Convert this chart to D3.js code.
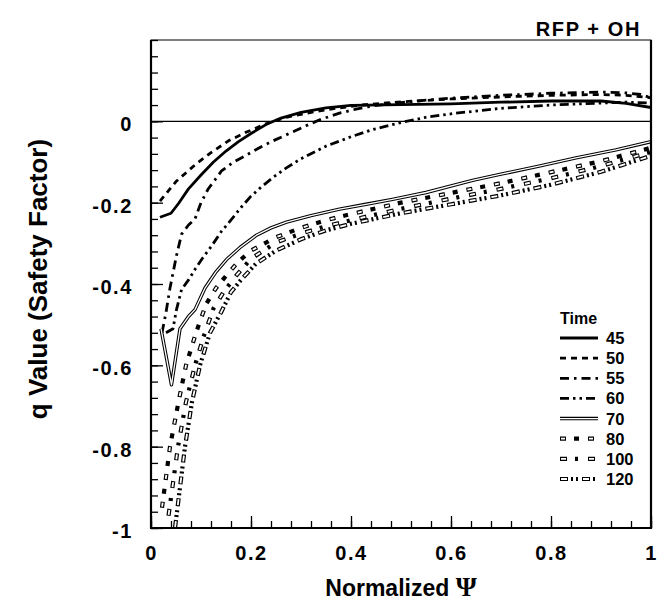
<!DOCTYPE html>
<html>
<head>
<meta charset="utf-8">
<script src="https://cdn.jsdelivr.net/npm/d3@7"></script>
<style>
    body { margin: 0; background: #fff; }
    svg { display: block; }
    text { font-family: "Liberation Sans", Arial, sans-serif; font-weight: bold; fill: #000; }
</style>
</head>
<body>
<svg id="chart" width="664" height="608"></svg>
<script>
// values
const times = [45, 50, 55, 60, 70, 80, 100, 120];

const psi45 = [0.018, 0.04, 0.055, 0.075, 0.1, 0.125, 0.15, 0.175, 0.2, 0.23, 0.26, 0.3, 0.35, 0.4, 0.5, 0.6, 0.7, 0.8, 0.9, 0.95, 1.0];
const q45 = [-0.236, -0.226, -0.202, -0.166, -0.132, -0.1, -0.073, -0.05, -0.03, -0.008, 0.008, 0.022, 0.033, 0.039, 0.041, 0.043, 0.047, 0.05, 0.05, 0.044, 0.034];

const psi50 = [0.018, 0.05, 0.09, 0.12, 0.155, 0.19, 0.23, 0.27, 0.32, 0.37, 0.42, 0.5, 0.6, 0.7, 0.8, 0.9, 0.95, 1.0];
const q50 = [-0.196, -0.148, -0.105, -0.077, -0.048, -0.027, -0.006, 0.01, 0.022, 0.032, 0.04, 0.048, 0.055, 0.06, 0.064, 0.066, 0.064, 0.058];

const psi55 = [0.022, 0.03, 0.038, 0.051, 0.061, 0.075, 0.088, 0.1, 0.114, 0.141, 0.165, 0.188, 0.215, 0.244, 0.28, 0.31, 0.34, 0.377, 0.41, 0.444, 0.5, 0.55, 0.6, 0.7, 0.8, 0.9, 0.95, 0.98, 1.0];
const q55 = [-0.52, -0.47, -0.41, -0.33, -0.278, -0.255, -0.24, -0.2, -0.167, -0.122, -0.1, -0.085, -0.066, -0.048, -0.028, -0.011, 0.005, 0.02, 0.03, 0.038, 0.046, 0.052, 0.057, 0.064, 0.069, 0.072, 0.07, 0.066, 0.058];

const psi60 = [0.03, 0.044, 0.051, 0.061, 0.075, 0.088, 0.104, 0.121, 0.14, 0.161, 0.18, 0.2, 0.22, 0.244, 0.27, 0.3, 0.35, 0.4, 0.444, 0.5, 0.55, 0.61, 0.7, 0.8, 0.9, 0.95, 1.0];
const q60 = [-0.52, -0.51, -0.463, -0.414, -0.39, -0.364, -0.335, -0.307, -0.272, -0.241, -0.212, -0.184, -0.162, -0.138, -0.115, -0.092, -0.061, -0.038, -0.02, -0.003, 0.01, 0.02, 0.032, 0.04, 0.045, 0.047, 0.045];

const psi70 = [0.02, 0.041, 0.058, 0.075, 0.088, 0.108, 0.13, 0.151, 0.178, 0.211, 0.24, 0.271, 0.32, 0.377, 0.43, 0.483, 0.55, 0.643, 0.7, 0.776, 0.85, 0.93, 1.0];
const q70 = [-0.51, -0.648, -0.51, -0.48, -0.463, -0.41, -0.37, -0.34, -0.31, -0.28, -0.262, -0.248, -0.232, -0.216, -0.204, -0.192, -0.175, -0.145, -0.13, -0.11, -0.09, -0.07, -0.05];

const psi80 = [0.022, 0.038, 0.055, 0.07, 0.09, 0.11, 0.13, 0.15, 0.175, 0.2, 0.25, 0.3, 0.35, 0.4, 0.5, 0.6, 0.7, 0.8, 0.9, 1.0];
const q80 = [-0.95, -0.8, -0.69, -0.6, -0.52, -0.45, -0.41, -0.38, -0.345, -0.318, -0.285, -0.262, -0.243, -0.228, -0.2, -0.176, -0.152, -0.125, -0.098, -0.065];

const psi100 = [0.035, 0.054, 0.07, 0.088, 0.105, 0.125, 0.145, 0.17, 0.2, 0.25, 0.3, 0.35, 0.4, 0.5, 0.6, 0.7, 0.8, 0.9, 1.0];
const q100 = [-0.97, -0.8, -0.69, -0.6, -0.53, -0.46, -0.42, -0.38, -0.338, -0.298, -0.276, -0.258, -0.243, -0.215, -0.19, -0.166, -0.14, -0.11, -0.075];

const psi120 = [0.048, 0.068, 0.082, 0.098, 0.118, 0.14, 0.16, 0.18, 0.21, 0.25, 0.3, 0.35, 0.4, 0.5, 0.6, 0.7, 0.8, 0.9, 1.0];
const q120 = [-1.0, -0.8, -0.69, -0.6, -0.52, -0.47, -0.42, -0.39, -0.35, -0.318, -0.29, -0.268, -0.252, -0.226, -0.204, -0.182, -0.156, -0.124, -0.085];

const xTicks = [0, 0.2, 0.4, 0.6, 0.8, 1];
const yTicks = [-1, -0.8, -0.6, -0.4, -0.2, 0];

const series = [
    { time: 45, psi: psi45, q: q45 },
    { time: 50, psi: psi50, q: q50 },
    { time: 55, psi: psi55, q: q55 },
    { time: 60, psi: psi60, q: q60 },
    { time: 70, psi: psi70, q: q70 },
    { time: 80, psi: psi80, q: q80 },
    { time: 100, psi: psi100, q: q100 },
    { time: 120, psi: psi120, q: q120 },
];

// line look per time: a black stroke, optionally hollowed out by a white one
const styles = new Map([
    [45, { dash: null }],
    [50, { dash: '6,5' }],
    [55, { dash: '9,5,2.5,5' }],
    [60, { dash: '9,4,2.5,4,2.5,4' }],
    [70, { dash: null, hollow: { dash: null } }],
    [80, { dash: '6,8,5,9', hollow: { dash: '4,24', offset: -1 } }],
    [100, { dash: '7,8,3,10', hollow: { dash: '5,23', offset: -1 } }],
    [120, { dash: '8,3,2,3,2,4', hollow: { dash: '6,16', offset: -1 } }],
]);

const margin = { top: 40, right: 13, bottom: 80, left: 151 };
const width = 664;
const height = 608;

const svg = d3.select('#chart');

const x = d3.scaleLinear().domain([0, 1]).range([margin.left, width - margin.right]);
const y = d3.scaleLinear().domain([-1, 0.2]).range([height - margin.bottom, margin.top]);

svg.append('defs').append('clipPath')
    .attr('id', 'plot-clip')
    .append('rect')
    .attr('x', x(0))
    .attr('y', y(0.2))
    .attr('width', x(1) - x(0))
    .attr('height', y(-1) - y(0.2));

// zero line
svg.append('line')
    .attr('x1', x(0)).attr('x2', x(1))
    .attr('y1', y(0)).attr('y2', y(0))
    .attr('stroke', '#000')
    .attr('stroke-width', 1.2);

function applyStroke(sel, style, w) {
    sel.attr('fill', 'none')
        .attr('stroke-linejoin', 'round')
        .attr('stroke-width', w);
    if (style.dash) {
        sel.attr('stroke-dasharray', style.dash);
    }
    if (style.offset !== undefined) {
        sel.attr('stroke-dashoffset', style.offset);
    }
    return sel;
}

function drawStyled(parent, pathD, time) {
    const style = styles.get(time);
    const hollow = style.hollow;
    const w = hollow ? (time === 70 ? 3.4 : 4.2) : 2.8;
    applyStroke(parent.append('path').attr('d', pathD), style, w)
        .attr('stroke', '#000');
    if (hollow) {
        applyStroke(parent.append('path').attr('d', pathD), hollow, time === 70 ? 1.3 : 1.8)
            .attr('stroke', '#fff');
    }
}

const line = d3.line()
    .x(d => x(d[0]))
    .y(d => y(d[1]));

const curves = svg.append('g')
    .classed('curves', true)
    .attr('clip-path', 'url(#plot-clip)');

for (const s of series) {
    const pts = s.psi.map((p, i) => [p, s.q[i]]);
    drawStyled(curves.append('g'), line(pts), s.time);
}

// axes, ticks pointing inwards
const minorX = d3.range(0, 1.0001, 0.04);
const minorY = d3.range(-1, 0.2001, 0.04);

svg.append('g')
    .attr('transform', `translate(0,${ y(-1) })`)
    .call(d3.axisBottom(x).tickValues(minorX).tickSize(-7).tickFormat(''))
    .call(g => g.select('.domain').remove());
svg.append('g')
    .attr('transform', `translate(${ x(0) },0)`)
    .call(d3.axisLeft(y).tickValues(minorY).tickSize(-7).tickFormat(''))
    .call(g => g.select('.domain').remove());

const xAxis = svg.append('g')
    .attr('transform', `translate(0,${ y(-1) })`)
    .call(d3.axisBottom(x).tickValues(xTicks).tickSize(-12).tickPadding(18).tickFormat(d3.format('')))
    .call(g => g.select('.domain').remove());
xAxis.selectAll('text')
    .attr('font-size', 20)
    .attr('letter-spacing', 1.5);

const yAxis = svg.append('g')
    .attr('transform', `translate(${ x(0) },0)`)
    .call(d3.axisLeft(y).tickValues(yTicks).tickSize(-12).tickPadding(18).tickFormat(d => d === 0 ? '0' : d3.format('')(d).replace('\u2212', '-')))
    .call(g => g.select('.domain').remove());
yAxis.selectAll('text')
    .attr('font-size', 20)
    .attr('letter-spacing', 1.6)
    .attr('dy', '0.47em');

svg.selectAll('.tick line').attr('stroke', '#000').attr('stroke-width', 1.3);

// frame
svg.append('rect')
    .attr('x', x(0))
    .attr('y', y(0.2))
    .attr('width', x(1) - x(0))
    .attr('height', y(-1) - y(0.2))
    .attr('fill', 'none')
    .attr('stroke', '#000')
    .attr('stroke-width', 1);
svg.append('path')
    .attr('d', `M ${ x(0) },${ y(0.2) } V ${ y(-1) } H ${ x(1) } V ${ y(0.2) }`)
    .attr('fill', 'none')
    .attr('stroke', '#000')
    .attr('stroke-width', 2.2);

// titles
svg.append('text')
    .attr('x', 641)
    .attr('y', 36)
    .attr('text-anchor', 'end')
    .attr('font-size', 20)
    .attr('letter-spacing', 1.6)
    .text('RFP + OH');

svg.append('text')
    .attr('transform', `translate(47,279) rotate(-90)`)
    .attr('text-anchor', 'middle')
    .attr('font-size', 26)
    .text('q Value (Safety Factor)');

const xTitle = svg.append('text')
    .attr('x', 401)
    .attr('y', 596)
    .attr('text-anchor', 'middle')
    .attr('font-size', 23);
xTitle.append('tspan').text('Normalized ');
xTitle.append('tspan')
    .style('font-family', '"Liberation Serif", serif')
    .attr('font-size', 27)
    .text('\u03a8');

// legend
const legend = svg.append('g').classed('legend', true);
legend.append('text')
    .attr('x', 560)
    .attr('y', 324)
    .attr('font-size', 16)
    .text('Time');

const rowY = d3.scalePoint().domain(times).range([338, 479]);
for (const t of times) {
    const row = legend.append('g');
    drawStyled(row, `M 560,${ rowY(t) } H 598`, t);
    row.append('text')
        .attr('x', 606)
        .attr('y', rowY(t))
        .attr('dy', '0.36em')
        .attr('font-size', 16.5)
        .text(t);
}
</script>
</body>
</html>
